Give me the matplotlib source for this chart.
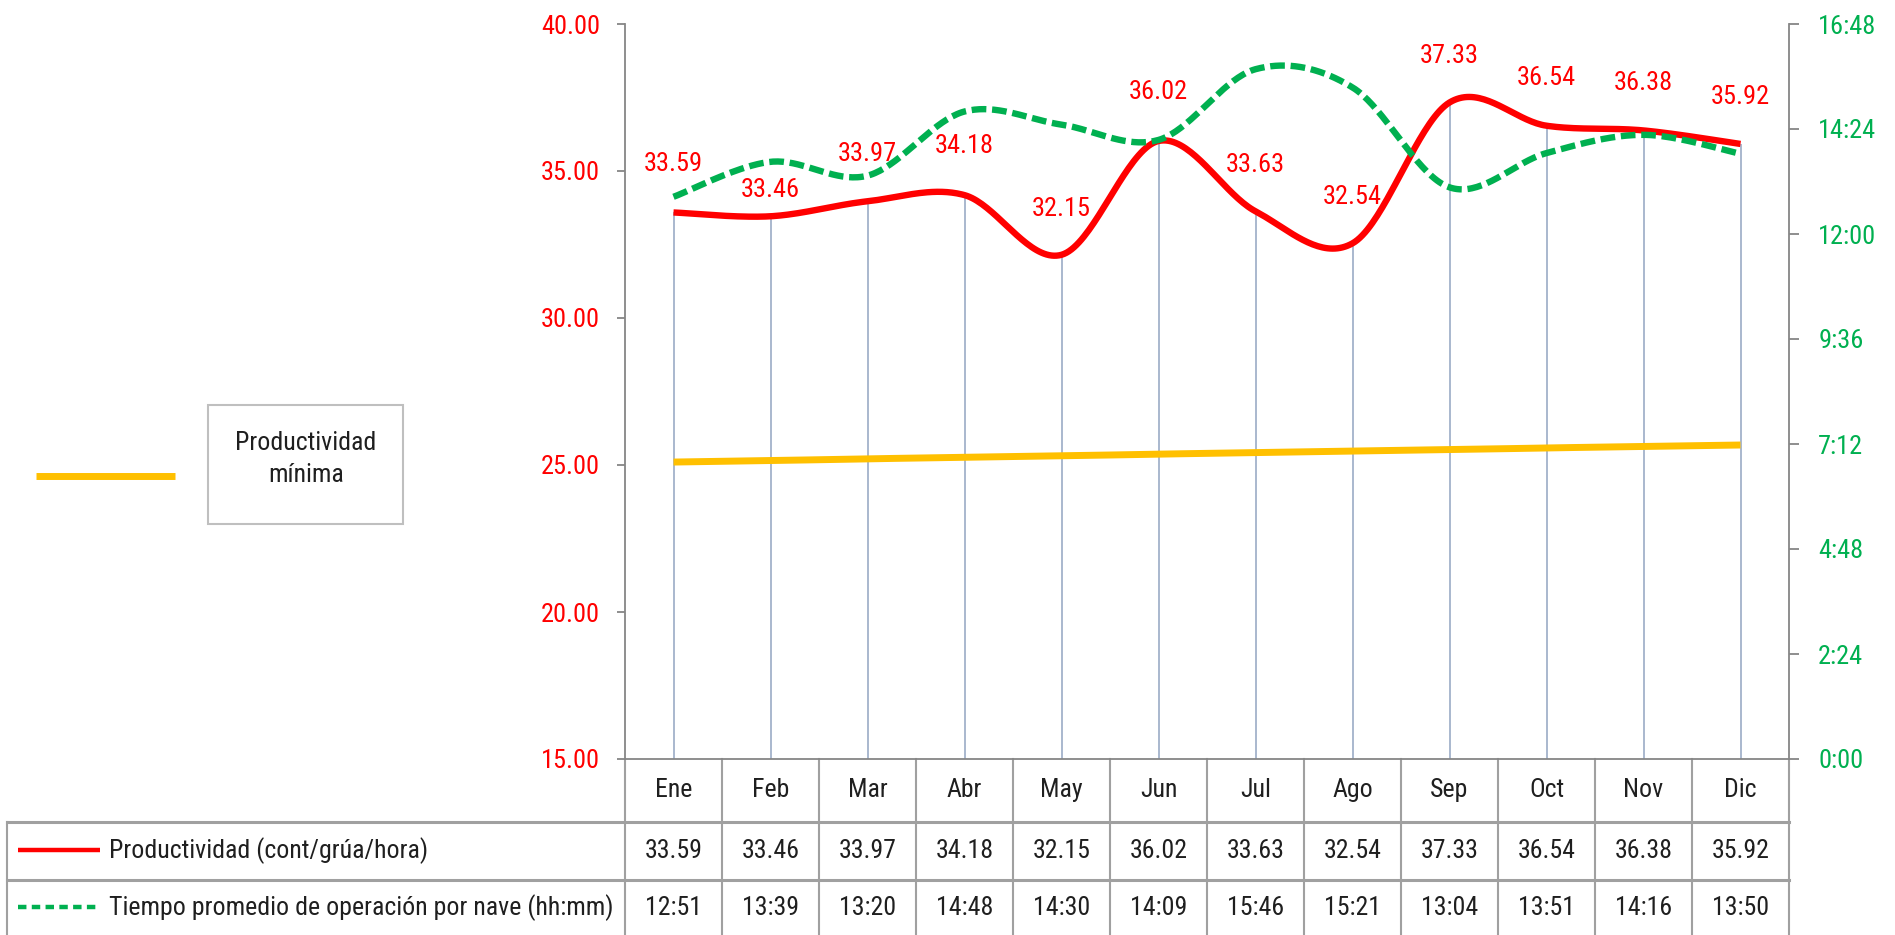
"""Productividad mensual vs tiempo promedio de operación por nave (Excel-style combo with data table)."""

import matplotlib

matplotlib.use("Agg")
import matplotlib.pyplot as plt
import matplotlib.transforms as mtransforms
import numpy as np
from matplotlib import font_manager
from matplotlib.patches import Rectangle

MONTHS = ["Ene", "Feb", "Mar", "Abr", "May", "Jun", "Jul", "Ago", "Sep", "Oct", "Nov", "Dic"]
PRODUCTIVIDAD = [33.59, 33.46, 33.97, 34.18, 32.15, 36.02, 33.63, 32.54, 37.33, 36.54, 36.38, 35.92]
TIEMPO_HHMM = ["12:51", "13:39", "13:20", "14:48", "14:30", "14:09", "15:46", "15:21", "13:04", "13:51", "14:16", "13:50"]
PROD_MINIMA = [25.10, 25.15, 25.21, 25.26, 25.31, 25.37, 25.42, 25.47, 25.52, 25.58, 25.63, 25.68]
LEFT_TICKS = [15, 20, 25, 30, 35, 40]
RIGHT_TICKS_HHMM = ["0:00", "2:24", "4:48", "7:12", "9:36", "12:00", "14:24", "16:48"]

ROW1_LABEL = "Productividad (cont/grúa/hora)"
ROW2_LABEL = "Tiempo promedio de operación por nave (hh:mm)"
LEGEND_MIN = "Productividad\nmínima"

# data label raise above each red point (pixels)
LABEL_RAISE_PX = [48, 26, 47, 49, 46, 49, 46, 46, 46, 48, 47, 47]

RED = "#FF0000"
GREEN = "#00B050"
YELLOW = "#FFC000"
DROP = "#A3B2CA"
GRID = "#A0A0A0"
SPINE = "#868686"
TXT = "#1F1F1F"

W, H = 1895, 935

# the original is Calibri: look for a narrow sans, else fall back
fonts = font_manager.fontManager.ttflist
names = {f.name for f in fonts}
FS, TABLE_FS = 16.5, 16.5
chosen = None
for cand in ["Liberation Sans Narrow", "Roboto Condensed", "Noto Sans Condensed",
             "Open Sans Condensed", "Noto Sans SemiCondensed", "Open Sans SemiCondensed"]:
    if cand in names:
        chosen = cand
        break
if chosen is not None:
    plt.rcParams["font.family"] = [chosen, "DejaVu Sans"]
    FS, TABLE_FS = 19, 18.6
else:
    narrow = [f for f in fonts if f.stretch in ("condensed", "semi-condensed", 500, 400)
              and f.name in ("Noto Sans", "Open Sans", "DejaVu Sans", "Roboto")]
    if narrow:
        plt.rcParams["font.family"] = [narrow[0].name, "DejaVu Sans"]
        plt.rcParams["font.stretch"] = "condensed"
        FS, TABLE_FS = 18, 18
    else:
        plt.rcParams["font.family"] = ["Liberation Sans", "DejaVu Sans"]


def hhmm_to_hours(s):
    h, m = s.split(":")
    return int(h) + int(m) / 60.0


def smooth(x, y, n=40):
    """Catmull-Rom style Bezier smoothing, similar to Excel's smoothed line."""
    pts = np.column_stack([x, y]).astype(float)
    P = np.vstack([pts[0], pts, pts[-1]])
    t = np.linspace(0, 1, n)[:, None]
    out = []
    for i in range(1, len(P) - 2):
        p0, p1, p2, p3 = P[i - 1], P[i], P[i + 1], P[i + 2]
        c1 = p1 + (p2 - p0) / 6.0
        c2 = p2 - (p3 - p1) / 6.0
        seg = (1 - t) ** 3 * p1 + 3 * (1 - t) ** 2 * t * c1 + 3 * (1 - t) * t ** 2 * c2 + t ** 3 * p2
        out.append(seg if i == 1 else seg[1:])
    out = np.vstack(out)
    return out[:, 0], out[:, 1]


x = np.arange(len(MONTHS))
prod = np.array(PRODUCTIVIDAD)
tiempo = np.array([hhmm_to_hours(s) for s in TIEMPO_HHMM])
right_ticks = [hhmm_to_hours(s) for s in RIGHT_TICKS_HHMM]

fig = plt.figure(figsize=(W / 100, H / 100), dpi=100)

# pixel overlay for the data table and the side legend
ax_t = fig.add_axes([0, 0, 1, 1], zorder=0)
ax_t.set_xlim(0, W)
ax_t.set_ylim(H, 0)
ax_t.axis("off")

left_px, right_px, top_px, bot_px = 625, 1789, 24, 759
ax = fig.add_axes([left_px / W, 1 - bot_px / H, (right_px - left_px) / W, (bot_px - top_px) / H], zorder=2)
ax.patch.set_alpha(0)
ax.set_xlim(-0.5, len(MONTHS) - 0.5)
ax.set_ylim(15, 40)

ax.vlines(x, 15, prod, color=DROP, lw=1.3, zorder=1)
ax.plot(*smooth(x, PROD_MINIMA), color=YELLOW, lw=5, solid_capstyle="butt", zorder=2)
ax.plot(*smooth(x, prod), color=RED, lw=4.6, solid_capstyle="butt", zorder=3)

for xi, v, raise_px in zip(x, prod, LABEL_RAISE_PX):
    ax.annotate(f"{v:.2f}", (xi, v), xytext=(0, raise_px), textcoords="offset pixels",
                ha="center", va="center", color=RED, fontsize=FS, zorder=5)

ax.set_yticks(LEFT_TICKS)
ax.set_yticklabels([f"{v:.2f}" for v in LEFT_TICKS])
ax.tick_params(axis="y", colors=SPINE, labelcolor=RED, labelsize=FS, length=6, width=1.3, pad=12)
ax.set_xticks([])
for side in ("top", "right"):
    ax.spines[side].set_visible(False)
for side in ("left", "bottom"):
    ax.spines[side].set_color(SPINE)
    ax.spines[side].set_linewidth(1.3)

ax2 = ax.twinx()
ax2.set_zorder(3)
ax2.patch.set_alpha(0)
ax2.set_ylim(0, 16.8)
ax2.plot(*smooth(x, tiempo), color=GREEN, lw=4.6, dashes=(2.3, 0.9), zorder=4)
ax2.set_yticks(right_ticks)
ax2.set_yticklabels(RIGHT_TICKS_HHMM)
ax2.tick_params(axis="y", colors=SPINE, labelcolor=GREEN, labelsize=FS, length=7, width=1.3, pad=14)
for side in ("top", "left", "bottom"):
    ax2.spines[side].set_visible(False)
ax2.spines["right"].set_color(SPINE)
ax2.spines["right"].set_linewidth(1.3)

# data table under the axis: x in category units, y in pixels
tr = mtransforms.blended_transform_factory(ax.transData, ax_t.transData)
row_lines = [822, 880]
for b in np.arange(-0.5, len(MONTHS), 1.0):
    ax_t.plot([b, b], [bot_px, H], color=GRID, lw=1.5, transform=tr, clip_on=False)
for yl in row_lines:
    ax_t.plot([7, right_px], [yl, yl], color=GRID, lw=2.2, clip_on=False)
ax_t.plot([7, 7], [row_lines[0], H], color=GRID, lw=1.5)

for xi, m, v, t in zip(x, MONTHS, PRODUCTIVIDAD, TIEMPO_HHMM):
    ax_t.text(xi, 790, m, transform=tr, ha="center", va="center", fontsize=TABLE_FS, color=TXT)
    ax_t.text(xi, 851, f"{v:.2f}", transform=tr, ha="center", va="center", fontsize=TABLE_FS, color=TXT)
    ax_t.text(xi, 908, t, transform=tr, ha="center", va="center", fontsize=TABLE_FS, color=TXT)

ax_t.plot([18, 100], [850, 850], color=RED, lw=3.2, solid_capstyle="butt")
ax_t.plot([18, 100], [907, 907], color=GREEN, lw=3.2, dashes=(1.9, 1.2))
ax_t.text(109, 851, ROW1_LABEL, ha="left", va="center", fontsize=TABLE_FS, color=TXT)
ax_t.text(109, 908, ROW2_LABEL, ha="left", va="center", fontsize=TABLE_FS, color=TXT)

# side legend for the minimum line
ax_t.plot([36, 175], [476, 476], color=YELLOW, lw=5, solid_capstyle="butt")
ax_t.add_patch(Rectangle((208, 405), 195, 119, fill=False, edgecolor="#BFBFBF", lw=1.5))
ax_t.text(306, 459, LEGEND_MIN, ha="center", va="center", fontsize=TABLE_FS, color=TXT, linespacing=1.45)

fig.savefig("out.png", dpi=100)
